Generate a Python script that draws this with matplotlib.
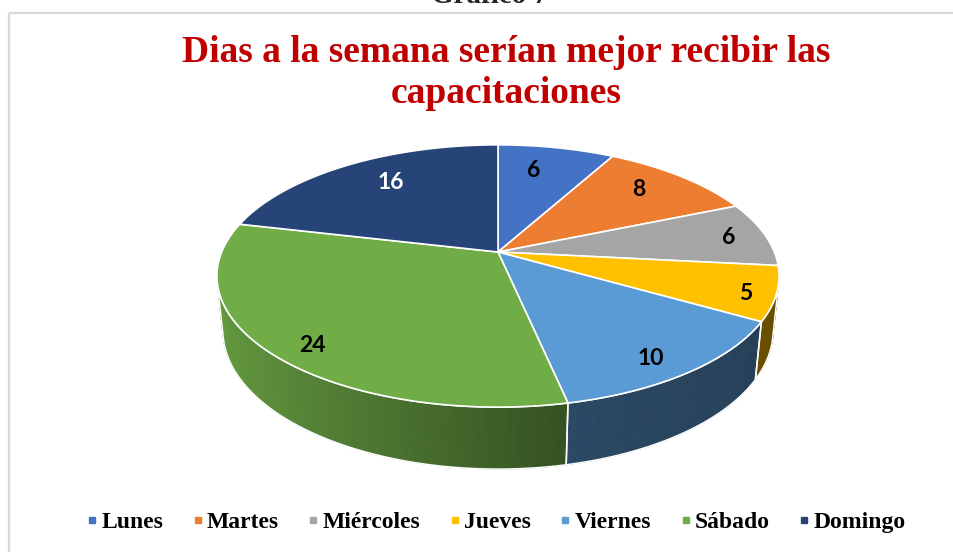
import numpy as np
import matplotlib
matplotlib.use("Agg")
import matplotlib.pyplot as plt
from matplotlib.patches import Polygon, Rectangle
from matplotlib.lines import Line2D
from matplotlib.colors import to_rgb

# ---------------- data ----------------
categories = ["Lunes", "Martes", "Miércoles", "Jueves", "Viernes", "Sábado", "Domingo"]
values = [6, 8, 6, 5, 10, 24, 16]
slice_colors = ["#4472C4", "#ED7D31", "#A5A5A5", "#FFC000", "#5B9BD5", "#70AD47", "#264478"]
label_colors = ["black", "black", "black", "black", "black", "black", "white"]
title_lines = ["Dias a la semana serían mejor recibir las", "capacitaciones"]
caption = "Gráfico 7"

# ---------------- layout / style ----------------
W, H = 954, 552
CX, CY = 498, 252          # pie centre on the canvas (pixels)
PHI = np.radians(27.3)     # elevation of the view
DIST = 4.86                # camera distance (in pie radii)
FOC = 1343                 # focal scale (pixels)
THICK = 0.225              # pie thickness (in pie radii)
label_r = [0.74, 0.78, 0.86, 0.90, 0.87, 0.88, 0.75]
label_dang = [-3.0, -2.0, 0.8, 2.0, 2.6, -3.3, 3.2]
shade_x = [-1.0, 0.2, 1.0]
shade_f = [0.90, 0.47, 0.40]

c, s = np.cos(PHI), np.sin(PHI)


def proj(X, Y, Z):
    depth = DIST + Y * c - Z * s
    return CX + X * FOC / depth, CY - (Y * s + Z * c) * FOC / depth


def arc(t0, t1, z, step=0.5):
    n = max(2, int(abs(t1 - t0) / step) + 2)
    t = np.radians(np.linspace(t0, t1, n))
    return proj(np.sin(t), np.cos(t), np.full_like(t, z))


fig = plt.figure(figsize=(W / 100, H / 100), dpi=100)
ax = fig.add_axes([0, 0, 1, 1])
ax.set_xlim(0, W)
ax.set_ylim(H, 0)
ax.axis("off")

# frame of the chart area
ax.add_patch(Rectangle((9, 13), W, H, fill=False, edgecolor="#d9d9d9", lw=1.6, zorder=0))
ax.text(490, 3, caption, ha="center", va="baseline", fontsize=21,
        family="Liberation Serif", weight="bold", color="#262626")

total = float(sum(values))
bounds = np.concatenate([[0], np.cumsum(values)]) / total * 360.0

# visible outer-wall range
lim = np.degrees(np.arccos(-1.0 / (DIST * c)))
vis0, vis1 = lim, 360 - lim

# ---- side walls ----
for i, col in enumerate(slice_colors):
    t0, t1 = max(bounds[i], vis0), min(bounds[i + 1], vis1)
    if t1 <= t0:
        continue
    base = np.array(to_rgb(col))
    ts = np.linspace(t0, t1, max(2, int((t1 - t0) / 0.5) + 2))
    for a, b in zip(ts[:-1], ts[1:]):
        xt, yt = arc(a, b, 0, step=10)
        xb, yb = arc(b, a, -THICK, step=10)
        m = np.radians((a + b) / 2)
        f = np.interp(np.sin(m), shade_x, shade_f)
        fc = np.clip(base * f, 0, 1)
        ax.add_patch(Polygon(np.column_stack([np.r_[xt, xb], np.r_[yt, yb]]),
                             closed=True, facecolor=fc, edgecolor=fc, lw=0.6, zorder=2))
    xt, yt = arc(t0, t1, 0)
    xb, yb = arc(t1, t0, -THICK)
    ax.add_patch(Polygon(np.column_stack([np.r_[xt, xb], np.r_[yt, yb]]),
                         closed=True, fill=False, edgecolor="white", lw=1.1, zorder=3))

# ---- top faces ----
for i, col in enumerate(slice_colors):
    xa, ya = arc(bounds[i], bounds[i + 1], 0)
    pts = np.column_stack([np.r_[CX, xa], np.r_[CY, ya]])
    ax.add_patch(Polygon(pts, closed=True, facecolor=col, edgecolor="white",
                         lw=1.2, joinstyle="round", zorder=4))

# ---- data labels ----
for i, v in enumerate(values):
    m = np.radians((bounds[i] + bounds[i + 1]) / 2 + label_dang[i])
    r = label_r[i]
    lx, ly = proj(r * np.sin(m), r * np.cos(m), 0)
    ax.text(lx, ly, str(v), ha="center", va="center", fontsize=16.5,
            family="Lato", weight="bold", color=label_colors[i], zorder=6)

# ---- title ----
title_y = [62, 103]
for line, y in zip(title_lines, title_y):
    ax.text(506, y, line, ha="center", va="baseline", fontsize=27,
            family="Liberation Serif", weight="bold", color="#C00000")

# ---- legend ----
handles = [Line2D([], [], marker="s", linestyle="", markersize=4.5,
                  markerfacecolor=col, markeredgecolor=col) for col in slice_colors]
fig.legend(handles, categories, loc="center", bbox_to_anchor=(496 / W, 1 - 522 / H),
           ncol=len(categories), frameon=False, handlelength=0.5, handletextpad=0.15,
           columnspacing=1.2, borderaxespad=0,
           prop={"family": "Liberation Serif", "weight": "bold", "size": 17})

fig.savefig("out.png", dpi=100, facecolor="white")
